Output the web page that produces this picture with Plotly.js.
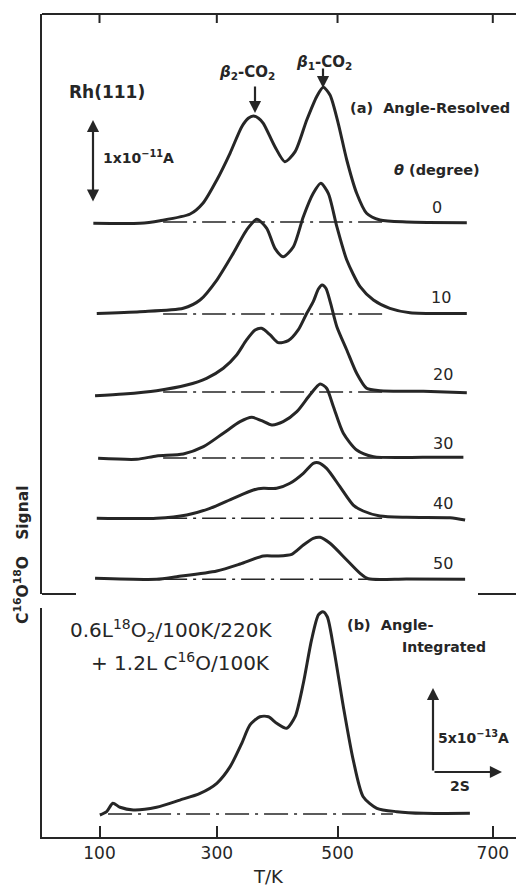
<!DOCTYPE html>
<html>
<head>
<meta charset="utf-8">
<script src="https://cdn.plot.ly/plotly-3.0.1.min.js"></script>
<style>
  html, body { margin: 0; padding: 0; background: #ffffff; }
  #chart { width: 516px; height: 887px; }
</style>
</head>
<body>
<div id="chart"></div>
<script>
// ---------------- DATA ----------------
// x values: time in seconds from the 100 K tick (heating is non-linear in T)
// temperature tick labels and their positions on the time axis
const tickLabels = ['100', '300', '500', '700'];
const tickTimes  = [0, 3.43, 6.96, 11.50];

// Panel (a) angle-resolved spectra, signal in units of 1e-11 A
const angles = ['0', '10', '20', '30', '40', '50'];

const t_0deg = [-0.18, 1.18, 1.77, 2.65, 3.03, 3.43, 3.82, 4.16, 4.35, 4.50, 4.65, 4.79, 5.13, 5.42, 5.72, 6.06, 6.35, 6.54, 6.74, 6.98, 7.23, 7.52, 7.81, 8.20, 8.98, 10.74];
const s_0deg = [-0.016, -0.016, 0.016, 0.096, 0.229, 0.506, 0.831, 1.148, 1.250, 1.277, 1.250, 1.189, 0.907, 0.727, 0.847, 1.229, 1.510, 1.623, 1.530, 1.189, 0.747, 0.346, 0.105, 0.024, 0.0, -0.008];

const t_10deg = [-0.08, 1.18, 2.45, 2.94, 3.43, 3.91, 4.30, 4.60, 4.89, 5.13, 5.37, 5.67, 5.96, 6.25, 6.47, 6.69, 6.94, 7.23, 7.62, 8.01, 8.49, 9.08, 10.74];
const s_10deg = [0.008, 0.028, 0.069, 0.169, 0.410, 0.731, 1.012, 1.141, 1.033, 0.792, 0.690, 0.811, 1.172, 1.454, 1.575, 1.454, 1.052, 0.651, 0.329, 0.169, 0.069, 0.016, 0.008];

const t_20deg = [-0.13, 0.70, 1.67, 2.55, 3.13, 3.62, 4.01, 4.30, 4.55, 4.74, 4.99, 5.23, 5.52, 5.81, 6.06, 6.25, 6.40, 6.51, 6.62, 6.75, 6.94, 7.23, 7.52, 7.81, 8.20, 9.47, 10.74];
const s_20deg = [-0.045, -0.024, 0.016, 0.084, 0.165, 0.286, 0.446, 0.627, 0.747, 0.767, 0.687, 0.594, 0.618, 0.747, 0.948, 1.088, 1.240, 1.289, 1.250, 1.080, 0.787, 0.506, 0.225, 0.045, 0.016, 0.008, -0.008];

const t_30deg = [-0.04, 1.09, 1.67, 2.45, 3.04, 3.62, 4.11, 4.45, 4.74, 5.04, 5.37, 5.77, 6.15, 6.45, 6.64, 6.84, 7.13, 7.52, 8.01, 9.47, 10.64];
const s_30deg = [-0.004, -0.016, 0.024, 0.048, 0.136, 0.298, 0.437, 0.490, 0.449, 0.398, 0.437, 0.558, 0.759, 0.892, 0.840, 0.618, 0.298, 0.096, 0.016, 0.008, 0.008];

const t_40deg = [-0.08, 1.67, 2.55, 3.23, 3.91, 4.50, 4.79, 5.18, 5.57, 5.96, 6.25, 6.40, 6.64, 7.03, 7.42, 7.71, 8.20, 8.98, 10.25, 10.69];
const s_40deg = [0.0, 0.0, 0.040, 0.120, 0.241, 0.341, 0.361, 0.361, 0.422, 0.542, 0.663, 0.670, 0.602, 0.381, 0.160, 0.088, 0.028, 0.012, 0.007, -0.020];

const t_50deg = [-0.13, 1.67, 2.26, 3.43, 4.11, 4.79, 5.18, 5.62, 5.96, 6.25, 6.45, 6.74, 7.23, 7.62, 7.86, 8.98, 10.69];
const s_50deg = [0.012, 0.0, 0.031, 0.100, 0.184, 0.281, 0.281, 0.301, 0.413, 0.494, 0.506, 0.434, 0.233, 0.072, 0.006, 0.004, 0.0];

// Panel (b) angle-integrated spectrum, signal in units of 1e-13 A
const t_int = [0.01, 0.21, 0.39, 0.60, 0.99, 1.67, 2.35, 2.94, 3.43, 3.82, 4.16, 4.40, 4.69, 4.94, 5.18, 5.47, 5.72, 5.96, 6.20, 6.40, 6.53, 6.66, 6.84, 7.13, 7.42, 7.71, 8.11, 8.69, 9.47, 10.83];
const s_int = [-0.06, 0.14, 0.64, 0.40, 0.24, 0.40, 0.83, 1.23, 1.83, 2.82, 4.21, 5.30, 5.79, 5.79, 5.40, 5.10, 5.79, 7.78, 10.36, 11.85, 12.04, 11.74, 9.96, 6.39, 3.21, 1.03, 0.34, 0.14, 0.04, 0.04];

// dash-dot zero lines (time span)
const baseA = [1.86, 8.40];
const baseB = [0.25, 8.58];

// ---------------- LAYOUT HELPERS ----------------
const W = 516, H = 887;
const M = {l: 42, r: 0, t: 14, b: 50};
const PW = W - M.l - M.r, PH = H - M.t - M.b;
const X = px => (px - M.l) / PW;          // pixel -> paper x
const Y = py => (H - M.b - py) / PH;      // pixel -> paper y
const INK = '#262626';
const FONT = 'DejaVu Sans, Arial, sans-serif';

const aTop = 1, aBot = Y(594);
const bTop = Y(608), bBot = 0;

// vertical stacking of panel (a) curves (y units of 1e-11 A)
const stackOffsets = [4.482, 3.373, 2.434, 1.639, 0.912, 0.177];

const seriesA = [
  [t_0deg, s_0deg], [t_10deg, s_10deg], [t_20deg, s_20deg],
  [t_30deg, s_30deg], [t_40deg, s_40deg], [t_50deg, s_50deg]
];

const traces = [];
seriesA.forEach((d, i) => {
  traces.push({
    x: baseA, y: baseA.map(() => stackOffsets[i]), xaxis: 'x', yaxis: 'y',
    mode: 'lines', line: {color: INK, width: 1.4, dash: '24px,6px,3px,6px'},
    hoverinfo: 'skip', showlegend: false
  });
});
traces.push({
  x: baseB, y: baseB.map(() => 0), xaxis: 'x', yaxis: 'y2',
  mode: 'lines', line: {color: INK, width: 1.4, dash: '24px,6px,3px,6px'},
  hoverinfo: 'skip', showlegend: false
});
seriesA.forEach((d, i) => {
  traces.push({
    x: d[0], y: d[1].map(v => v + stackOffsets[i]), xaxis: 'x', yaxis: 'y',
    mode: 'lines', line: {color: INK, width: 3, shape: 'spline', smoothing: 0.7},
    name: angles[i] + '°', showlegend: false
  });
});
traces.push({
  x: t_int, y: s_int, xaxis: 'x', yaxis: 'y2',
  mode: 'lines', line: {color: INK, width: 3, shape: 'spline', smoothing: 0.7},
  name: 'angle-integrated', showlegend: false
});

const xRange = [(M.l - 99.5) / 34.2, (W - M.r - 99.5) / 34.2];

// ---------------- SHAPES (frame) ----------------
const shapes = [];
shapes.push({type: 'line', xref: 'paper', yref: 'paper', x0: 0, x1: 1, y0: aTop, y1: aTop, line: {color: INK, width: 2}});
tickTimes.forEach(t => shapes.push({type: 'line', xref: 'x', yref: 'paper', x0: t, x1: t, y0: aTop, y1: aTop - 9 / PH, line: {color: INK, width: 2}}));
shapes.push({type: 'line', xref: 'paper', yref: 'paper', x0: 0, x1: X(76), y0: aBot, y1: aBot, line: {color: INK, width: 2}});
shapes.push({type: 'line', xref: 'paper', yref: 'paper', x0: X(478), x1: 1, y0: aBot, y1: aBot, line: {color: INK, width: 2}});

// ---------------- ANNOTATIONS ----------------
const ann = [];
function txt(text, px, py, size, opts) {
  ann.push(Object.assign({
    text: text, xref: 'paper', yref: 'paper', x: X(px), y: Y(py),
    xanchor: 'center', yanchor: 'middle', showarrow: false,
    font: {family: FONT, size: size, color: INK}
  }, opts || {}));
}
function arrow(hx, hy, tx, ty, side) {
  ann.push({
    text: '', xref: 'paper', yref: 'paper', x: X(hx), y: Y(hy),
    ax: tx - hx, ay: ty - hy, axref: 'pixel', ayref: 'pixel',
    showarrow: true, arrowhead: 2, arrowsize: 1.1, arrowwidth: 2.2,
    arrowcolor: INK, arrowside: side || 'end', standoff: 0, startstandoff: 0
  });
}

txt('<b>Rh(111)</b>', 107, 92, 17);
txt('<b><i>β</i><sub>2</sub>-CO<sub>2</sub></b>', 247, 73, 15);
txt('<b><i>β</i><sub>1</sub>-CO<sub>2</sub></b>', 324, 62, 15);
arrow(255, 113, 255, 85);
arrow(323, 88, 323, 67);
txt('<b>(a)  Angle-Resolved</b>', 430, 108, 14.5);
txt('<b><i>θ</i> (degree)</b>', 437, 170, 14.5);
const labelPos = [[437, 207], [441, 297], [443, 375], [443, 443], [443, 503], [443, 563]];
angles.forEach((a, i) => txt(a, labelPos[i][0], labelPos[i][1], 16));
txt('<b>1x10<sup>−11</sup>A</b>', 101, 157, 14, {xanchor: 'left'});
arrow(93, 120, 93, 203, 'end+start');

txt('0.6L<sup>18</sup>O<sub>2</sub>/100K/220K', 171, 630, 20);
txt('+ 1.2L C<sup>16</sup>O/100K', 180, 662, 20);
txt('<b>(b)  Angle-</b>', 345, 625, 14.5, {xanchor: 'left'});
txt('<b>Integrated</b>', 400, 647, 14, {xanchor: 'left'});
arrow(433, 688, 433, 772);
arrow(502, 772, 433, 772);
txt('<b>5x10<sup>−13</sup>A</b>', 436, 737, 14, {xanchor: 'left'});
txt('<b>2S</b>', 460, 786, 14);
txt('T/K', 268, 876, 18);
txt('<b>C<sup>16</sup>O<sup>18</sup>O   Signal</b>', 21, 555, 15.5, {textangle: -90});

const layout = {
  width: W, height: H,
  margin: M,
  paper_bgcolor: '#ffffff', plot_bgcolor: 'rgba(0,0,0,0)',
  showlegend: false,
  xaxis: {
    range: xRange, anchor: 'y2', domain: [0, 1],
    showline: true, linecolor: INK, linewidth: 2,
    ticks: 'inside', ticklen: 11, tickwidth: 2, tickcolor: INK,
    tickmode: 'array', tickvals: tickTimes, ticktext: tickLabels,
    tickfont: {family: FONT, size: 17, color: INK},
    showgrid: false, zeroline: false, fixedrange: true
  },
  yaxis: {
    domain: [aBot, aTop], range: [0, 580 / 83], anchor: 'x',
    showline: true, linecolor: INK, linewidth: 2,
    showticklabels: false, ticks: '', showgrid: false, zeroline: false
  },
  yaxis2: {
    domain: [bBot, bTop], range: [-23 / 16.8, (229 - 23) / 16.8], anchor: 'x',
    showline: true, linecolor: INK, linewidth: 2,
    showticklabels: false, ticks: '', showgrid: false, zeroline: false
  },
  shapes: shapes,
  annotations: ann
};

Plotly.newPlot('chart', traces, layout, {displayModeBar: false, staticPlot: true});
</script>
</body>
</html>
